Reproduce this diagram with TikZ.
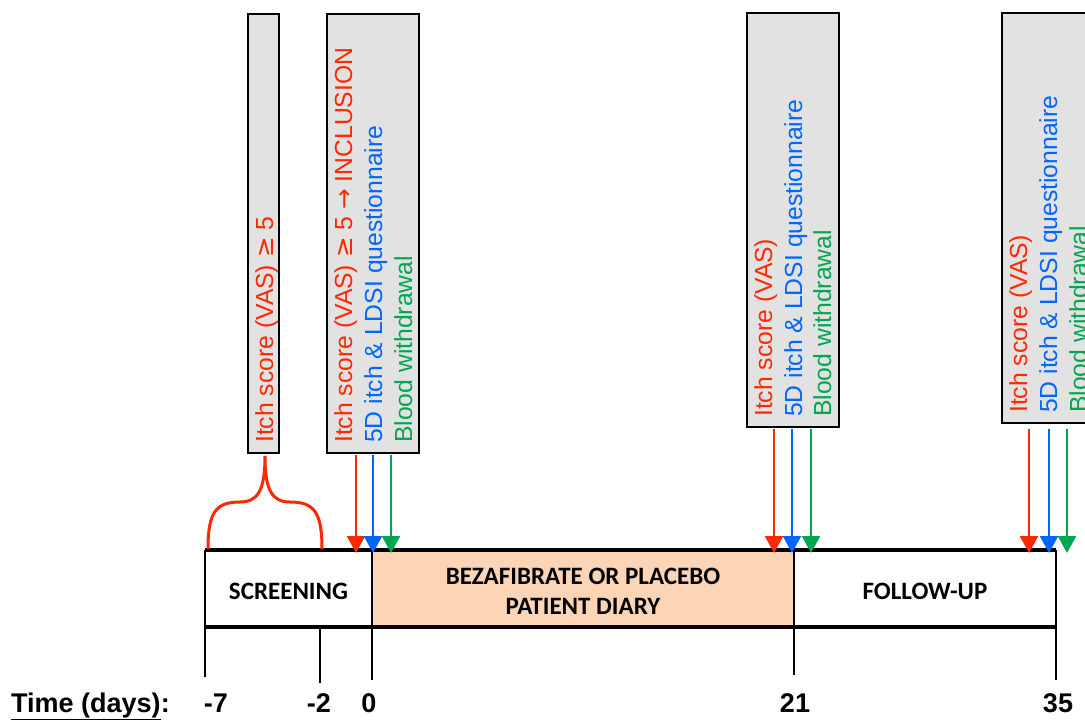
\documentclass[tikz,border=0pt]{standalone}
\usepackage{fontspec}
\usetikzlibrary{arrows.meta}
\newfontfamily\arialf{Liberation Sans}
\newfontfamily\calib{Carlito}
\newfontfamily\dvs{DejaVu Sans}
\definecolor{vred}{RGB}{255,40,0}
\definecolor{vblue}{RGB}{0,102,255}
\definecolor{vgreen}{RGB}{0,166,80}
\definecolor{peach}{RGB}{251,213,181}
\definecolor{boxgray}{RGB}{226,226,226}
\tikzset{
  graybox/.style={draw=black, fill=boxgray, line width=2.5pt, inner sep=0},
  lbl/.style={rotate=90, anchor=base west, inner sep=0, font=\arialf\fontsize{24.7}{29}\selectfont},
  phase/.style={inner sep=0, align=center, font=\calib\bfseries\fontsize{25}{30}\selectfont},
  tlab/.style={anchor=base, inner sep=0, font=\arialf\bfseries\fontsize{27}{30}\selectfont},
  arr/.style={line width=2.3pt, -{Triangle[width=18pt,length=17pt]}},
  thickline/.style={line width=4.5pt},
  tick/.style={line width=2.5pt},
}
\begin{document}
\begin{tikzpicture}[x=1pt,y=-1pt]
\useasboundingbox (0,0) rectangle (1085,720);
\clip (0,0) rectangle (1085,720);
% gray boxes
\node[graybox, minimum width=31, minimum height=439] (b1) at (263.5,233.5) {};
\node[graybox, minimum width=92, minimum height=439] (b2) at (373,233.5) {};
\node[graybox, minimum width=92, minimum height=414] (b3) at (793,220) {};
\node[graybox, minimum width=92, minimum height=410] (b4) at (1048,218) {};
% labels
\node[lbl, text=vred] (l1) at (273,443) {Itch score (VAS) {\dvs≥} 5};
\node[lbl, text=vred] (l2a) at (352,443) {Itch score (VAS) {\dvs≥} 5 {\dvs→} INCLUSION};
\node[lbl, text=vblue] (l2b) at (382,443) {5D itch \& LDSI questionnaire};
\node[lbl, text=vgreen] (l2c) at (412,443) {Blood withdrawal};
\node[lbl, text=vred] (l3a) at (772,417) {Itch score (VAS)};
\node[lbl, text=vblue] (l3b) at (802,417) {5D itch \& LDSI questionnaire};
\node[lbl, text=vgreen] (l3c) at (831,417) {Blood withdrawal};
\node[lbl, text=vred] (l4a) at (1027,413) {Itch score (VAS)};
\node[lbl, text=vblue] (l4b) at (1057,413) {5D itch \& LDSI questionnaire};
\node[lbl, text=vgreen] (l4c) at (1087,413) {Blood withdrawal};
% timeline phases
\fill[peach] (372,550) rectangle (794,627);
\node[phase, minimum width=167, minimum height=77] (scr) at (288.5,591) {SCREENING};
\node[phase, minimum width=422, minimum height=77] (trt) at (583,591) {BEZAFIBRATE OR PLACEBO\\PATIENT DIARY};
\node[phase, minimum width=262, minimum height=77] (fu) at (925,591) {FOLLOW-UP};
% coordinates
\coordinate (tl) at (205,550); \coordinate (tr) at (1056,550);
\coordinate (bl) at (205,627); \coordinate (br) at (1056,627);
\coordinate (m7) at (205,677); \coordinate (m2t) at (320,627); \coordinate (m2) at (320,683);
\coordinate (z0t) at (372,550); \coordinate (z0) at (372,680);
\coordinate (d21t) at (794,550); \coordinate (d21) at (794,675);
\coordinate (d35) at (1056,680);
\draw[tick] (tl) -- (m7);
\draw[tick] (m2t) -- (m2);
\draw[tick] (z0t) -- (z0);
\draw[tick] (d21t) -- (d21);
\draw[tick] (tr) -- (d35);
\draw[thickline] (tl) -- (tr);
\draw[thickline] (bl) -- (br);
% brace
\coordinate (brL) at (208,549); \coordinate (brR) at (322,549); \coordinate (brT) at (265,456);
\draw[vred, line width=3pt] (brL) .. controls (208,512) and (216,502) .. (240,502)
  .. controls (258,502) and (265,490) .. (brT)
  .. controls (265,490) and (272,502) .. (290,502)
  .. controls (314,502) and (322,512) .. (brR);
% arrows
\coordinate (a2r) at (356,455); \coordinate (e2r) at (356,553);
\coordinate (a2b) at (373,455); \coordinate (e2b) at (373,553);
\coordinate (a2g) at (391,455); \coordinate (e2g) at (391,553);
\coordinate (a3r) at (774,429); \coordinate (e3r) at (774,553);
\coordinate (a3b) at (792,429); \coordinate (e3b) at (792,553);
\coordinate (a3g) at (811,429); \coordinate (e3g) at (811,553);
\coordinate (a4r) at (1029,429); \coordinate (e4r) at (1029,553);
\coordinate (a4b) at (1049,429); \coordinate (e4b) at (1049,553);
\coordinate (a4g) at (1067,429); \coordinate (e4g) at (1067,553);
\draw[arr, vred] (a2r) -- (e2r);
\draw[arr, vblue] (a2b) -- (e2b);
\draw[arr, vgreen] (a2g) -- (e2g);
\draw[arr, vred] (a3r) -- (e3r);
\draw[arr, vblue] (a3b) -- (e3b);
\draw[arr, vgreen] (a3g) -- (e3g);
\draw[arr, vred] (a4r) -- (e4r);
\draw[arr, vblue] (a4b) -- (e4b);
\draw[arr, vgreen] (a4g) -- (e4g);
% time labels
\node[tlab, anchor=base west] (tlbl) at (11,712) {\underline{Time (days)}:};
\node[tlab] (n7) at (216,712) {-7};
\node[tlab] (n2) at (319,712) {-2};
\node[tlab] (n0) at (369,712) {0};
\node[tlab] (n21) at (795,712) {21};
\node[tlab] (n35) at (1058,712) {35};
\end{tikzpicture}
\end{document}
